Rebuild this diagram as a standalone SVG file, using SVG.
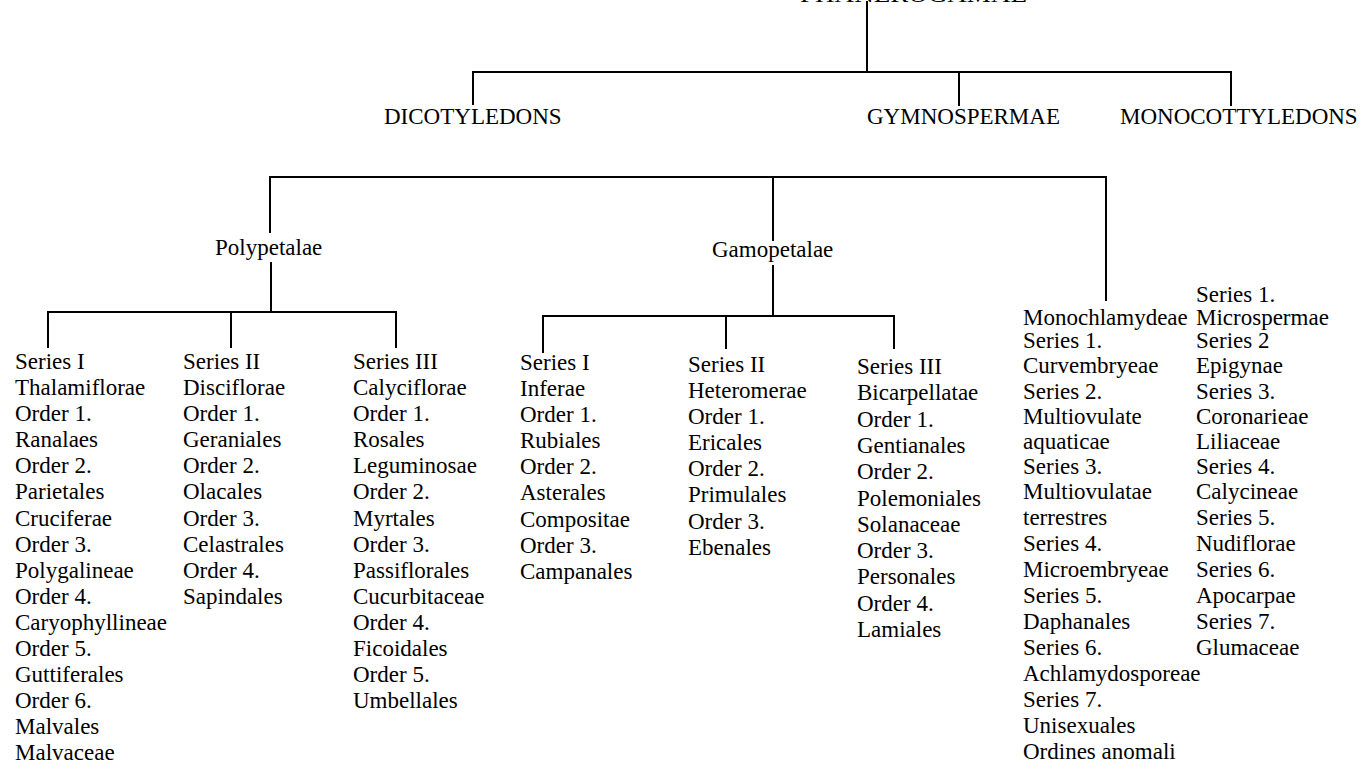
<svg xmlns="http://www.w3.org/2000/svg" width="1366" height="771" viewBox="0 0 1366 771">
<style>
  .t { font-family: "Liberation Serif", "Times New Roman", serif; font-size: 23px; fill: #000; }
  .c { stroke: #000; stroke-width: 2; fill: none; stroke-linecap: square; }
</style>
<rect width="1366" height="771" fill="#fff"/>
<g id="connectors" class="c">
  <path d="M867 2 V72 M473 104 V72 H1231 V105 M959 72 V105"/>
  <path d="M270 232 V177 H1106 V300 M773 177 V240"/>
  <path d="M271 263 V312 M48 347 V312 H396 V347 M231 312 V347"/>
  <path d="M773 266 V316 M543 352 V316 H894 V348 M726 316 V348"/>
</g>
<g id="node-root"><text class="t" x="800" y="2" textLength="227" lengthAdjust="spacingAndGlyphs">PHANEROGAMAE</text></g>
<g id="node-dicotyledons"><text class="t" x="384" y="124">DICOTYLEDONS</text></g>
<g id="node-gymnospermae"><text class="t" x="867" y="124">GYMNOSPERMAE</text></g>
<g id="node-monocotyledons"><text class="t" x="1120" y="124">MONOCOTTYLEDONS</text></g>
<g id="node-polypetalae"><text class="t" x="215" y="255">Polypetalae</text></g>
<g id="node-gamopetalae"><text class="t" x="712" y="257">Gamopetalae</text></g>
<g id="node-poly-series1"><text class="t">
  <tspan x="15" y="369">Series I</tspan>
  <tspan x="15" y="395">Thalamiflorae</tspan>
  <tspan x="15" y="421">Order 1.</tspan>
  <tspan x="15" y="447">Ranalaes</tspan>
  <tspan x="15" y="473">Order 2.</tspan>
  <tspan x="15" y="499">Parietales</tspan>
  <tspan x="15" y="526">Cruciferae</tspan>
  <tspan x="15" y="552">Order 3.</tspan>
  <tspan x="15" y="578">Polygalineae</tspan>
  <tspan x="15" y="604">Order 4.</tspan>
  <tspan x="15" y="630">Caryophyllineae</tspan>
  <tspan x="15" y="656">Order 5.</tspan>
  <tspan x="15" y="682">Guttiferales</tspan>
  <tspan x="15" y="708">Order 6.</tspan>
  <tspan x="15" y="734">Malvales</tspan>
  <tspan x="15" y="760">Malvaceae</tspan>
</text></g>
<g id="node-poly-series2"><text class="t">
  <tspan x="183" y="369">Series II</tspan>
  <tspan x="183" y="395">Disciflorae</tspan>
  <tspan x="183" y="421">Order 1.</tspan>
  <tspan x="183" y="447">Geraniales</tspan>
  <tspan x="183" y="473">Order 2.</tspan>
  <tspan x="183" y="499">Olacales</tspan>
  <tspan x="183" y="526">Order 3.</tspan>
  <tspan x="183" y="552">Celastrales</tspan>
  <tspan x="183" y="578">Order 4.</tspan>
  <tspan x="183" y="604">Sapindales</tspan>
</text></g>
<g id="node-poly-series3"><text class="t">
  <tspan x="353" y="369">Series III</tspan>
  <tspan x="353" y="395">Calyciflorae</tspan>
  <tspan x="353" y="421">Order 1.</tspan>
  <tspan x="353" y="447">Rosales</tspan>
  <tspan x="353" y="473">Leguminosae</tspan>
  <tspan x="353" y="499">Order 2.</tspan>
  <tspan x="353" y="526">Myrtales</tspan>
  <tspan x="353" y="552">Order 3.</tspan>
  <tspan x="353" y="578">Passiflorales</tspan>
  <tspan x="353" y="604">Cucurbitaceae</tspan>
  <tspan x="353" y="630">Order 4.</tspan>
  <tspan x="353" y="656">Ficoidales</tspan>
  <tspan x="353" y="682">Order 5.</tspan>
  <tspan x="353" y="708">Umbellales</tspan>
</text></g>
<g id="node-gamo-series1"><text class="t">
  <tspan x="520" y="370">Series I</tspan>
  <tspan x="520" y="396">Inferae</tspan>
  <tspan x="520" y="422">Order 1.</tspan>
  <tspan x="520" y="448">Rubiales</tspan>
  <tspan x="520" y="474">Order 2.</tspan>
  <tspan x="520" y="500">Asterales</tspan>
  <tspan x="520" y="527">Compositae</tspan>
  <tspan x="520" y="553">Order 3.</tspan>
  <tspan x="520" y="579">Campanales</tspan>
</text></g>
<g id="node-gamo-series2"><text class="t">
  <tspan x="688" y="372">Series II</tspan>
  <tspan x="688" y="398">Heteromerae</tspan>
  <tspan x="688" y="424">Order 1.</tspan>
  <tspan x="688" y="450">Ericales</tspan>
  <tspan x="688" y="476">Order 2.</tspan>
  <tspan x="688" y="502">Primulales</tspan>
  <tspan x="688" y="529">Order 3.</tspan>
  <tspan x="688" y="555">Ebenales</tspan>
</text></g>
<g id="node-gamo-series3"><text class="t">
  <tspan x="857" y="374">Series III</tspan>
  <tspan x="857" y="400">Bicarpellatae</tspan>
  <tspan x="857" y="427">Order 1.</tspan>
  <tspan x="857" y="453">Gentianales</tspan>
  <tspan x="857" y="479">Order 2.</tspan>
  <tspan x="857" y="506">Polemoniales</tspan>
  <tspan x="857" y="532">Solanaceae</tspan>
  <tspan x="857" y="558">Order 3.</tspan>
  <tspan x="857" y="584">Personales</tspan>
  <tspan x="857" y="611">Order 4.</tspan>
  <tspan x="857" y="637">Lamiales</tspan>
</text></g>
<g id="node-monochlamydeae"><text class="t">
  <tspan x="1023" y="325">Monochlamydeae</tspan>
  <tspan x="1023" y="348">Series 1.</tspan>
  <tspan x="1023" y="373">Curvembryeae</tspan>
  <tspan x="1023" y="399">Series 2.</tspan>
  <tspan x="1023" y="424">Multiovulate</tspan>
  <tspan x="1023" y="449">aquaticae</tspan>
  <tspan x="1023" y="474">Series 3.</tspan>
  <tspan x="1023" y="499">Multiovulatae</tspan>
  <tspan x="1023" y="525">terrestres</tspan>
  <tspan x="1023" y="551">Series 4.</tspan>
  <tspan x="1023" y="577">Microembryeae</tspan>
  <tspan x="1023" y="603">Series 5.</tspan>
  <tspan x="1023" y="629">Daphanales</tspan>
  <tspan x="1023" y="655">Series 6.</tspan>
  <tspan x="1023" y="681">Achlamydosporeae</tspan>
  <tspan x="1023" y="707">Series 7.</tspan>
  <tspan x="1023" y="733">Unisexuales</tspan>
  <tspan x="1023" y="759">Ordines anomali</tspan>
</text></g>
<g id="node-monocot-series"><text class="t">
  <tspan x="1196" y="302">Series 1.</tspan>
  <tspan x="1196" y="325">Microspermae</tspan>
  <tspan x="1196" y="348">Series 2</tspan>
  <tspan x="1196" y="373">Epigynae</tspan>
  <tspan x="1196" y="399">Series 3.</tspan>
  <tspan x="1196" y="424">Coronarieae</tspan>
  <tspan x="1196" y="449">Liliaceae</tspan>
  <tspan x="1196" y="474">Series 4.</tspan>
  <tspan x="1196" y="499">Calycineae</tspan>
  <tspan x="1196" y="525">Series 5.</tspan>
  <tspan x="1196" y="551">Nudiflorae</tspan>
  <tspan x="1196" y="577">Series 6.</tspan>
  <tspan x="1196" y="603">Apocarpae</tspan>
  <tspan x="1196" y="629">Series 7.</tspan>
  <tspan x="1196" y="655">Glumaceae</tspan>
</text></g>
</svg>
